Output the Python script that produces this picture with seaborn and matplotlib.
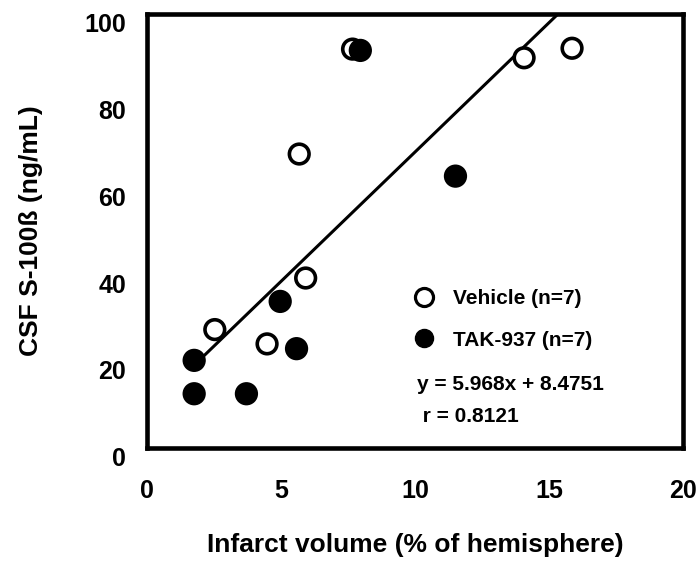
import numpy as np
import pandas as pd
import matplotlib
matplotlib.use("Agg")
import matplotlib.pyplot as plt
import matplotlib.transforms as mtransforms
from matplotlib.lines import Line2D
import seaborn as sns

# Infarct volume (% of hemisphere) and CSF S-100ß (ng/mL) per animal
vehicle_x = [7.67, 14.07, 15.86, 5.68, 5.92, 2.53, 4.48]
vehicle_y = [91.9, 89.9, 92.1, 67.7, 39.1, 27.2, 23.9]
tak_x = [7.96, 11.51, 4.97, 5.58, 1.76, 1.76, 3.71]
tak_y = [91.6, 62.6, 33.7, 22.8, 20.1, 12.4, 12.4]

group_names = ["Vehicle", "TAK-937"]
legend_labels = ["Vehicle (n=7)", "TAK-937 (n=7)"]

# Linear fit reported for the pooled data
slope = 5.968
intercept = 8.4751
r_value = 0.8121

x_ticks = [0, 5, 10, 15, 20]
y_ticks = [0, 20, 40, 60, 80, 100]

df = pd.DataFrame({
    "x": vehicle_x + tak_x,
    "y": vehicle_y + tak_y,
    "group": [group_names[0]] * len(vehicle_x) + [group_names[1]] * len(tak_x),
})

sns.set_theme(style="white")
plt.rcParams["font.family"] = ["Liberation Sans", "DejaVu Sans"]
plt.rcParams["font.weight"] = "bold"
plt.rcParams["text.color"] = "black"
plt.rcParams["axes.labelcolor"] = "black"
plt.rcParams["xtick.color"] = "black"
plt.rcParams["ytick.color"] = "black"

fig = plt.figure(figsize=(6.97, 5.65), dpi=100)
ax = fig.add_axes([147 / 697, 1 - 447.5 / 565, (683 - 147) / 697, (447.5 - 14) / 565])

# Regression line from the smallest infarct up to the top of the axis
x0 = min(df["x"])
x1 = (100 - intercept) / slope
fit_x = np.array([x0, x1])
fit = pd.DataFrame({"x": fit_x, "y": slope * fit_x + intercept})
sns.lineplot(data=fit, x="x", y="y", color="black", lw=2.2, ax=ax, zorder=2)

sns.scatterplot(data=df, x="x", y="y", hue="group",
                palette={group_names[0]: "white", group_names[1]: "black"},
                hue_order=group_names, edgecolor="black", linewidth=2.6,
                s=200, legend=False, ax=ax, zorder=3)

ax.set_xlim(0, 20)
ax.set_ylim(0, 100)
ax.set_xticks(x_ticks)
ax.set_yticks(y_ticks)
ax.set_xticklabels([str(t) for t in x_ticks])
ax.set_yticklabels([str(t) for t in y_ticks])

for side in ["left", "right", "top", "bottom"]:
    ax.spines[side].set_visible(True)
    ax.spines[side].set_linewidth(3.3)
    ax.spines[side].set_color("black")

ax.tick_params(axis="both", direction="in", length=9.5, width=2.2,
               color="black", labelsize=18, labelcolor="black")
ax.tick_params(axis="x", pad=23)
ax.tick_params(axis="y", pad=15)
for lbl in ax.get_yticklabels():
    lbl.set_fontweight("bold")
    lbl.set_transform(lbl.get_transform() +
                      mtransforms.ScaledTranslation(0, -0.09, fig.dpi_scale_trans))
for lbl in ax.get_xticklabels():
    lbl.set_fontweight("bold")

ax.set_xlabel("Infarct volume (% of hemisphere)", fontsize=19,
              fontweight="bold", labelpad=21)
ax.set_ylabel("CSF S-100ß (ng/mL)", fontsize=19, fontweight="bold", labelpad=30)

handles = [
    Line2D([], [], ls="none", marker="o", markersize=13, markerfacecolor="white",
           markeredgecolor="black", markeredgewidth=2.3),
    Line2D([], [], ls="none", marker="o", markersize=13, markerfacecolor="black",
           markeredgecolor="black", markeredgewidth=1.0),
]
leg = ax.legend(handles, legend_labels, loc="upper left",
                bbox_to_anchor=(414 / 697, 1 - 289 / 565),
                bbox_transform=fig.transFigure, frameon=False,
                prop={"family": "Liberation Sans", "weight": "bold", "size": 15},
                handlelength=1.0, handletextpad=0.85, labelspacing=1.08,
                borderpad=0, borderaxespad=0)
for txt in leg.get_texts():
    txt.set_color("black")

fig.text(417 / 697, 1 - 385 / 565, f"y = {slope}x + {intercept}",
         fontsize=15, fontweight="bold", ha="left", va="center")
fig.text(417 / 697, 1 - 417 / 565, f" r = {r_value}",
         fontsize=15, fontweight="bold", ha="left", va="center")

fig.savefig("out.png", dpi=100, facecolor="white")
